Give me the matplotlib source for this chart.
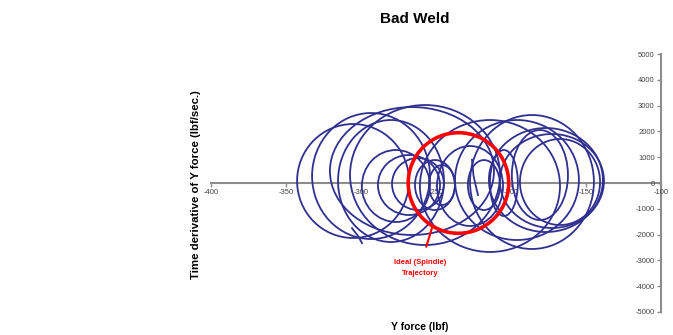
import matplotlib
matplotlib.use("Agg")
import matplotlib.pyplot as plt
from matplotlib.patches import Ellipse

plt.rcParams['font.family'] = ['Liberation Sans', 'DejaVu Sans']

# Loops of the measured trajectory (centre x, centre y, full width, full height)
loop_cx = [-305.3, -293.3, -266.0, -280.0, -276.7, -268.0, -262.0, -250.7, -246.0,
           -227.3, -218.0, -176.7, -172.7, -167.3, -186.0, -196.0, -214.0, -257.3,
           -180.7, -204.7]
loop_cy = [78, 271, 465, 78, -116, -78, -39, -78, -78,
           -116, -78, 116, 78, 39, 39, 116, -116, 310,
           310, 0]
loop_w = [74.6, 78.6, 109.4, 70.6, 45.4, 41.4, 34.6, 26.6, 17.4,
          44.0, 21.4, 76.0, 69.4, 53.4, 82.6, 82.6, 93.4, 100.0,
          37.4, 18.6]
loop_h = [4418, 4884, 4960, 4728, 2790, 2326, 2016, 1938, 1550,
          3100, 1938, 4032, 3644, 3334, 5194, 4652, 5116, 5426,
          3488, 2560]

# start tail and end hook of the trajectory
start_x = [-299.3, -302.0, -306.0]
start_y = [-2330, -2050, -1750]
end_x = [-226.0, -225.0, -223.5, -222.0]
end_y = [900, 300, -100, -465]

# ideal spindle trajectory
ideal_cx, ideal_cy, ideal_w, ideal_h = -235.0, 0.0, 67.0, 3900.0

x_ticks = [-400, -350, -300, -250, -200, -150, -100]
y_ticks = [-5000, -4000, -3000, -2000, -1000, 0, 1000, 2000, 3000, 4000, 5000]

fig = plt.figure(figsize=(6.73, 3.35), dpi=100)
ax = fig.add_axes([0.3135, 0.0687, 0.6686, 0.770])
ax.set_xlim(-400, -100)
ax.set_ylim(-5000, 5000)

navy = '#303090'
for cx, cy, w, h in zip(loop_cx, loop_cy, loop_w, loop_h):
    ax.add_patch(Ellipse((cx, cy), w, h, fill=False, edgecolor=navy, lw=1.3, zorder=3))
ax.plot(start_x, start_y, color=navy, lw=1.3, zorder=3)
ax.plot(end_x, end_y, color=navy, lw=1.3, zorder=3)

ax.add_patch(Ellipse((ideal_cx, ideal_cy), ideal_w, ideal_h, fill=False,
                     edgecolor='#ff0000', lw=2.6, zorder=4))

ax.annotate('Ideal (Spindle)\nTrajectory', xy=(-252.7, -1744), xytext=(-260.7, -3300),
            ha='center', va='center', fontsize=5.5, fontweight='bold', color='#ff0000',
            linespacing=1.9,
            arrowprops=dict(arrowstyle='-', color='#ff0000', lw=1.5, shrinkA=7, shrinkB=0))

for s in ['top', 'right']:
    ax.spines[s].set_visible(False)
ax.spines['bottom'].set_position(('data', 0))
ax.spines['left'].set_position(('data', -100))
for s in ['bottom', 'left']:
    ax.spines[s].set_color('#8c8c8c')
    ax.spines[s].set_linewidth(1.5)
    ax.spines[s].set_zorder(1)

ax.set_xticks(x_ticks)
ax.set_xticklabels([str(v) for v in x_ticks])
ax.set_yticks(y_ticks)
ax.set_yticklabels([str(v) for v in y_ticks])
ax.tick_params(axis='both', labelsize=5.5, labelcolor='#444444', color='#8c8c8c',
               length=3, width=1, direction='out', pad=1.5)

fig.text(0.617, 0.944, 'Bad Weld', ha='center', va='center', fontsize=11, fontweight='bold')
fig.text(0.624, 0.024, 'Y force (lbf)', ha='center', va='center', fontsize=7.5, fontweight='bold')
fig.text(0.291, 0.448, 'Time derivative of Y force (lbf/sec.)', ha='center', va='center',
         rotation=90, fontsize=8.2, fontweight='bold')

fig.savefig('out.png', dpi=100)
